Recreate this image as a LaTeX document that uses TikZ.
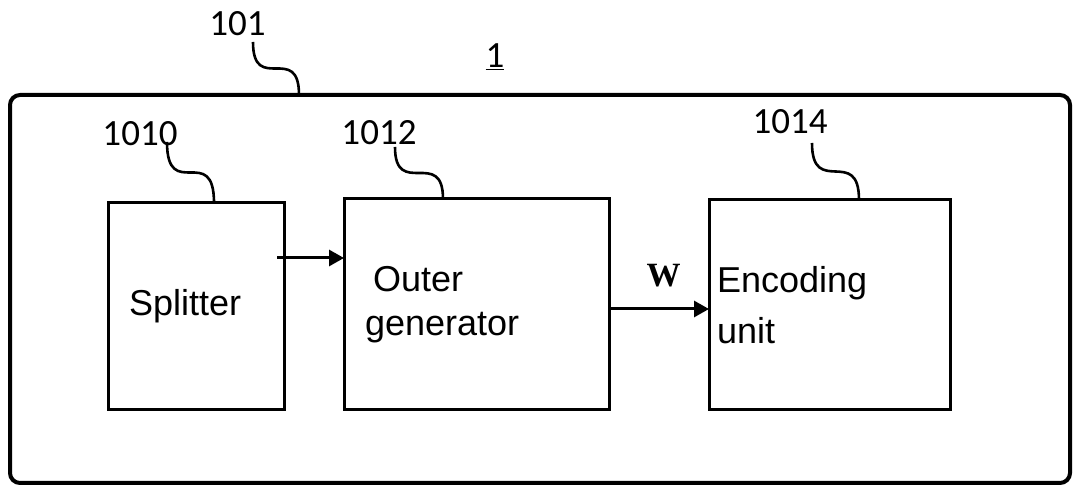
\documentclass[tikz,border=0pt]{standalone}
\usepackage{fontspec}
\setmainfont{Liberation Sans}
\newfontfamily\refnum{Carlito}
\newfontfamily\vecfont{Liberation Serif}
\usetikzlibrary{arrows.meta,positioning}
\tikzset{
  frame/.style={draw, line width=4pt, rounded corners=10pt, minimum width=1060pt, minimum height=388pt, inner sep=0pt, outer sep=0pt},
  unitbox/.style={draw, line width=3pt, align=left, anchor=south west, inner ysep=0pt, outer sep=0pt, font=\fontsize{36}{44}\selectfont},
  refno/.style={anchor=base, inner sep=0pt, font=\refnum\fontsize{37}{40}\selectfont},
  arrow/.style={-{Triangle[length=15pt,width=16pt]}, line width=3pt},
  lead/.style={line width=2.6pt}
}

\begin{document}
\begin{tikzpicture}[x=1pt,y=1pt]
\useasboundingbox (0,0) rectangle (1078,486);
\node[frame] (frame) at (540,197) {};
\node[unitbox, text width=134pt, inner xsep=21pt, minimum height=207pt] (split) at (108,76) {Splitter};
\node[unitbox, text width=223pt, inner xsep=21pt, minimum height=211pt, right=60pt of split.south east, anchor=south west] (outer) {\hspace*{8pt}Outer\\generator};
\node[unitbox, text width=225pt, inner xsep=8pt, minimum height=210pt, right=100pt of outer.south east, anchor=south west, font=\fontsize{36}{51}\selectfont] (enc) {Encoding\\unit};
% reference numerals
\node[refno] (l101) at (237.5,450) {101};
\node[refno] (l1) at (495,418) {\underline{1}};
\node[refno] (l1010) at (140,340) {1010};
\node[refno] (l1012) at (379,341) {1012};
\node[refno] (l1014) at (790,352) {1014};
\draw[lead] ([xshift=15.5pt,yshift=-6pt]l101.base) .. controls +(0,-53) and +(0,53) .. ([xshift=289pt]frame.north west);
\draw[lead] ([xshift=27pt,yshift=4pt]l1010.base) .. controls +(0,-61) and +(0,61) .. ([xshift=106pt]split.north west);
\draw[lead] ([xshift=16pt,yshift=-2pt]l1012.base) .. controls +(0,-52) and +(0,52) .. ([xshift=99pt]outer.north west);
\draw[lead] ([xshift=22pt,yshift=-9pt]l1014.base) .. controls +(0,-55) and +(0,55) .. ([xshift=150pt]enc.north west);
% signal flow
\draw[arrow] ([xshift=-7pt,yshift=48.5pt]split.east) -- ([yshift=48.5pt]split.east -| outer.west);
\draw[arrow] ([yshift=-4.5pt]outer.east) -- ([yshift=-4.5pt]outer.east -| enc.west);
\node[anchor=base, inner sep=0pt, font=\vecfont\bfseries\fontsize{34}{36}\selectfont] (w) at (663.5,199) {W};
\end{tikzpicture}
\end{document}
